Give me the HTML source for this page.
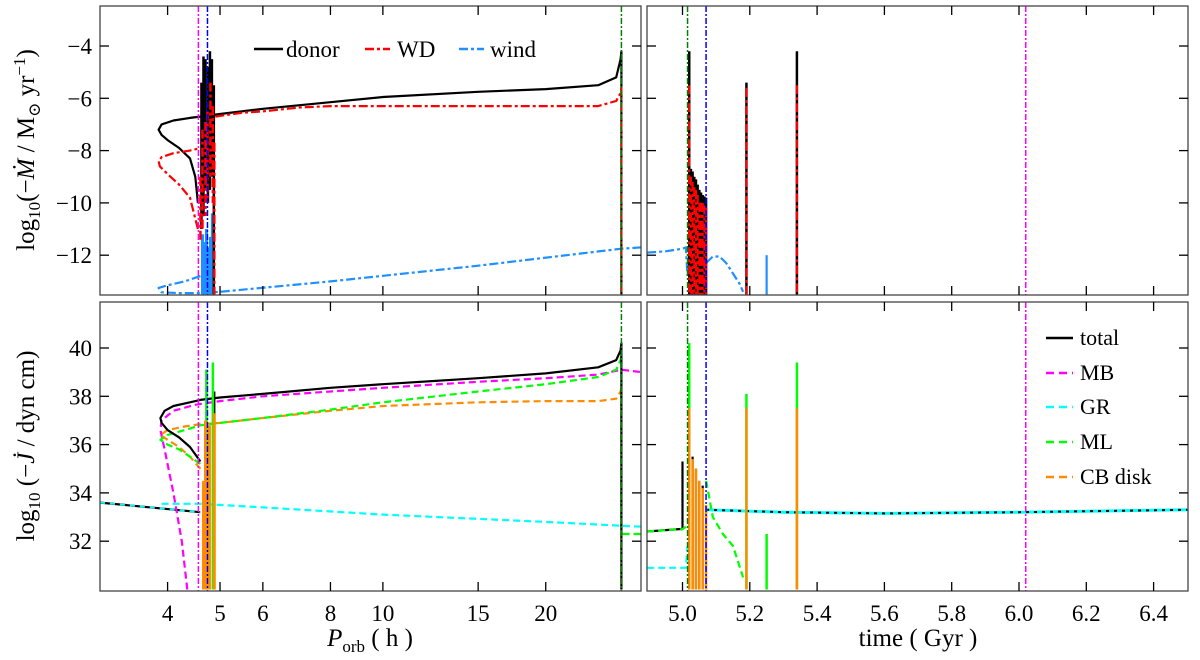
<!DOCTYPE html>
<html><head><meta charset="utf-8"><style>
html,body{margin:0;padding:0;background:#fff}
svg{display:block;font-family:"Liberation Serif","DejaVu Serif",serif}
</style></head><body>
<svg id="fig" width="1200" height="660" viewBox="0 0 1200 660" xmlns="http://www.w3.org/2000/svg">
<defs>
<clipPath id="cTL"><rect x="100" y="6" width="541" height="289"/></clipPath>
<clipPath id="cTR"><rect x="647" y="6" width="541" height="289"/></clipPath>
<clipPath id="cBL"><rect x="100" y="302" width="541" height="289"/></clipPath>
<clipPath id="cBR"><rect x="647" y="302" width="541" height="289"/></clipPath>
</defs>
<g id="gTL" clip-path="url(#cTL)"></g>
<g id="gTR" clip-path="url(#cTR)"></g>
<g id="gBL" clip-path="url(#cBL)"></g>
<g id="gBR" clip-path="url(#cBR)"></g>
<g id="axes"></g>
<text transform="translate(34,150) rotate(-90)" text-anchor="middle" font-size="25">log<tspan font-size="17" dy="6">10</tspan><tspan dy="-6">(−</tspan><tspan font-style="italic">Ṁ</tspan> / M<tspan font-size="17" dy="6">⊙</tspan><tspan dy="-6"> yr</tspan><tspan font-size="17" dy="-9">−1</tspan><tspan dy="9">)</tspan></text>
<text transform="translate(34,446) rotate(-90)" text-anchor="middle" font-size="25">log<tspan font-size="17" dy="6">10</tspan><tspan dy="-6"> (−</tspan><tspan font-style="italic">J̇</tspan> / dyn cm)</text>
<text x="370" y="646" text-anchor="middle" font-size="25"><tspan font-style="italic">P</tspan><tspan font-size="17" dy="6">orb</tspan><tspan dy="-6"> ( h )</tspan></text>
<text x="918" y="646" text-anchor="middle" font-size="25">time ( Gyr )</text>
<g font-size="23">
<g><line x1="254" y1="49" x2="283" y2="49" stroke="#000" stroke-width="2.5"/><text x="286" y="57">donor</text></g>
<g><line x1="365" y1="49" x2="390" y2="49" stroke="#f00" stroke-width="2.5" stroke-dasharray="9,3,3,3"/><text x="397" y="57">WD</text></g>
<g><line x1="459" y1="49" x2="484" y2="49" stroke="#1e90ff" stroke-width="2.5" stroke-dasharray="9,3,3,3"/><text x="490" y="57">wind</text></g>
</g>
<g font-size="22">
<g><line x1="1046" y1="338" x2="1073" y2="338" stroke="#000" stroke-width="2.5"/><text x="1080" y="345">total</text></g>
<g><line x1="1046" y1="373" x2="1073" y2="373" stroke="#f0f" stroke-width="2.5" stroke-dasharray="8,5"/><text x="1080" y="380">MB</text></g>
<g><line x1="1046" y1="407" x2="1073" y2="407" stroke="#0ff" stroke-width="2.5" stroke-dasharray="8,5"/><text x="1080" y="414">GR</text></g>
<g><line x1="1046" y1="442" x2="1073" y2="442" stroke="#0f0" stroke-width="2.5" stroke-dasharray="8,5"/><text x="1080" y="449">ML</text></g>
<g><line x1="1046" y1="477" x2="1073" y2="477" stroke="#ff8c00" stroke-width="2.5" stroke-dasharray="8,5"/><text x="1080" y="484">CB disk</text></g>
</g>
</svg>
<script>
// ---- data ----
const porbTicks=[4,5,6,8,10,15,20];
const timeTicks=[5.0,5.2,5.4,5.6,5.8,6.0,6.2,6.4];
const mdotTicks=[-4,-6,-8,-10,-12];
const jdotTicks=[32,34,36,38,40];
const vlinesPorb=[4.56,4.74,27.6];
const vlinesTime=[5.015,5.07,6.02];
// top-left
const donorX=[4.55,4.5,4.4,4.2,4.0,3.9,3.85,3.9,4.1,4.4,4.6,5,6,8,10,15,20,25,27,27.5,27.6,27.6];
const donorY=[-10,-9,-8.3,-7.9,-7.6,-7.4,-7.2,-7.0,-6.85,-6.75,-6.7,-6.6,-6.4,-6.15,-5.95,-5.75,-5.65,-5.5,-5.2,-4.5,-4.2,-13.5];
const donorSpX=[4.62,4.66,4.70,4.75,4.79,4.83,4.87];
const donorSpTop=[-5.4,-4.4,-4.5,-4.8,-4.2,-4.5,-5.5];
const donorSpBot=[-11,-10.5,-9.5,-10,-9.5,-9,-13.5];
const wdX=[4.55,4.4,4.2,4.0,3.87,3.85,3.9,4.1,4.4,4.6];
const wdY=[-11,-9.8,-9.3,-8.9,-8.6,-8.4,-8.25,-8.1,-8.0,-7.9];
const wd2X=[4.9,5.5,6,7,8,10,15,20,25,27,27.5,27.6,27.6];
const wd2Y=[-6.7,-6.55,-6.5,-6.35,-6.3,-6.3,-6.3,-6.3,-6.3,-6.1,-5.8,-5.6,-13.5];
const wdSpX=[4.6,4.64,4.7,4.74,4.8,4.85,4.88];
const wdSpTop=[-9,-7.2,-6.9,-6.5,-5.4,-6.3,-7.7];
const wdSpBot=[-11.5,-11,-10.5,-10,-9,-10,-13.5];
const windX=[4.6,4.3,4.0,3.85,3.9,4.2,4.6,5,8,15,27.6,30];
const windY=[-12.8,-13.0,-13.15,-13.25,-13.42,-13.45,-13.45,-13.4,-13.0,-12.4,-11.75,-11.7];
const windSpX=[4.64,4.68,4.72,4.76,4.8,4.84];
const windSpTop=[-11.2,-11.5,-11,-11.7,-11.3,-10.4];
// top-right
const windRX=[4.895,4.95,5.0,5.01,5.015];
const windRY=[-11.9,-11.85,-11.75,-11.7,-12.8];
const windR2X=[5.07,5.09,5.11,5.13,5.15,5.17,5.18];
const windR2Y=[-12.3,-12.05,-12.05,-12.3,-12.7,-13.1,-13.4];
const windRSpX=[5.25,5.34];
const windRSpTop=[-12.0,-10.3];
const donorRSpX=[5.02,5.025,5.03,5.035,5.04,5.045,5.05,5.055,5.06,5.065,5.07,5.19,5.34];
const donorRSpTop=[-4.2,-8.7,-8.8,-9.0,-9.1,-9.3,-9.5,-9.6,-9.7,-9.75,-9.8,-5.4,-4.2];
const wdRSpTop=[-5.5,-9.0,-9.2,-9.4,-9.5,-9.7,-10,-10,-10,-10.1,-10.2,-5.6,-5.5];
// bottom-left
const totalX=[4.6,4.4,4.2,4.0,3.9,3.88,3.95,4.1,4.4,4.6,5,6,8,10,15,20,25,27,27.5,27.6,27.6];
const totalY=[35.3,35.9,36.3,36.6,36.9,37.1,37.4,37.6,37.75,37.85,37.95,38.1,38.35,38.5,38.75,38.95,39.2,39.5,39.9,40.2,30];
const totalLowX=[3,4.6];
const totalLowY=[33.6,33.2];
const mbX=[4.35,4.25,4.1,3.95,3.88,3.9,4.1,4.5,5,6,8,10,15,20,25,27.6,30];
const mbY=[30,32,34,35.8,36.6,37.0,37.4,37.65,37.8,38.0,38.2,38.35,38.6,38.75,38.9,39.1,39.0];
const grX=[3.9,4.6,6,10,20,30];
const grY=[33.55,33.55,33.4,33.1,32.8,32.6];
const mlX=[4.6,4.4,4.2,4.0,3.88,4.0,4.3,4.6,5,6,8,10,15,20,25,27,27.5,27.6,27.6,30];
const mlY=[35.2,35.5,35.8,36.0,36.2,36.4,36.6,36.8,36.9,37.1,37.45,37.75,38.2,38.5,38.8,39.1,39.5,39.9,32.3,32.3];
const cbX=[4.6,4.4,4.2,4.0,3.88,4.0,4.3,4.6,5,6,8,10,15,20,25,27,27.5,27.6,27.6];
const cbY=[35.0,35.5,35.9,36.2,36.4,36.6,36.75,36.85,36.9,37.1,37.4,37.6,37.75,37.8,37.8,37.9,38.2,38.4,30];
const mlSpX=[4.72,4.85];
const mlSpTop=[39.1,39.4];
const cbSpX=[4.66,4.7,4.74,4.78,4.88];
const cbSpTop=[34.5,37,35.5,36.8,37.3];
const totSpX=[4.72,4.88];
const totSpTop=[39.1,38.2];
// bottom-right
const totalRX=[4.895,4.99,5.0,5.0];
const totalRY=[32.4,32.5,32.5,35.3];
const flatRX=[5.07,5.3,5.6,6.0,6.5];
const flatRY=[33.3,33.2,33.15,33.2,33.3];
const grRX=[4.895,5.01,5.015];
const grRY=[30.9,30.9,31.8];
const mlRX=[4.895,5.0,5.01];
const mlRY=[32.4,32.5,32.6];
const mlR2X=[5.07,5.09,5.12,5.15,5.18];
const mlR2Y=[34.5,33.0,32.3,31.8,30.5];
const mlRSpX=[5.02,5.19,5.25,5.34];
const mlRSpTop=[40.2,38.1,32.3,39.4];
const cbRSpX=[5.02,5.03,5.04,5.05,5.06,5.07,5.19,5.34];
const cbRSpTop=[37.5,35.4,35,34.5,34.2,33.5,37.5,37.5];
const totRSpX=[5.03,5.04,5.05,5.06];
const totRSpTop=[35.5,35,34.5,34.3];
const mbRSpX=[5.02];
const mbRSpTop=[38.4];

// ---- scales ----
const xL=h=>100+(Math.log10(h)-Math.log10(3))*541;
const xR=t=>682.5+(t-5)*336.5;
const yT=v=>46+(-4-v)*26.15;
const yB=v=>348+(40-v)*24.15;
const NS='http://www.w3.org/2000/svg';
function mk(tag,parent,attrs){const e=document.createElementNS(NS,tag);for(const k in attrs)e.setAttribute(k,attrs[k]);parent.appendChild(e);return e;}
const DD='9,3,3,3', DA='7,4';
function line(g,xs,ys,fx,fy,color,dash,name,w){
  const pts=xs.map((x,i)=>fx(x).toFixed(1)+','+fy(ys[i]).toFixed(1)).join(' ');
  const e=mk('polyline',g,{points:pts,fill:'none',stroke:color,'stroke-width':w||2.2,'stroke-dasharray':dash||'none','stroke-linejoin':'round'});
  
  
}
function spikes(g,xs,tops,bots,fx,fy,color,dash,name,w){
  xs.forEach((x,i)=>{
    const e=mk('line',g,{x1:fx(x),x2:fx(x),y1:fy(tops[i]),y2:fy(bots[i]),stroke:color,'stroke-width':w||2.2,'stroke-dasharray':dash||'none'});
    
    
  });
}
const gTL=document.getElementById('gTL'),gTR=document.getElementById('gTR'),gBL=document.getElementById('gBL'),gBR=document.getElementById('gBR');
const fill=(a,v)=>a.map(()=>v);

// top-left
line(gTL,windX,windY,xL,yT,'#1e90ff',DD,'wind-line');
spikes(gTL,windSpX,windSpTop,fill(windSpX,-13.5),xL,yT,'#1e90ff','none','wind-spike',3);
line(gTL,donorX,donorY,xL,yT,'#000','none','donor-line');
spikes(gTL,donorSpX,donorSpTop,donorSpBot,xL,yT,'#000','none','donor-spike',2.5);
line(gTL,wdX,wdY,xL,yT,'#f00',DD,'wd-line-low');
line(gTL,wd2X,wd2Y,xL,yT,'#f00',DD,'wd-line');
spikes(gTL,wdSpX,wdSpTop,wdSpBot,xL,yT,'#f00',DD,'wd-spike',2.5);
// top-right
line(gTR,windRX,windRY,xR,yT,'#1e90ff',DD,'wind-line-time');
line(gTR,windR2X,windR2Y,xR,yT,'#1e90ff',DD,'wind-hump-time');
spikes(gTR,windRSpX,windRSpTop,fill(windRSpX,-13.5),xR,yT,'#1e90ff','none','wind-spike-time');
spikes(gTR,donorRSpX,donorRSpTop,fill(donorRSpX,-13.5),xR,yT,'#000','none','donor-spike-time',2.5);
spikes(gTR,donorRSpX,wdRSpTop,fill(donorRSpX,-13.5),xR,yT,'#f00',DD,'wd-spike-time',2.2);
// bottom-left
line(gBL,totalLowX,totalLowY,xL,yB,'#000','none','total-line-low');
line(gBL,totalLowX,totalLowY,xL,yB,'#0ff','5,5','gr-line-low',1.8);
line(gBL,grX,grY,xL,yB,'#0ff',DA,'gr-line');
line(gBL,mbX,mbY,xL,yB,'#f0f',DA,'mb-line');
line(gBL,cbX,cbY,xL,yB,'#ff8c00',DA,'cb-disk-line');
line(gBL,mlX,mlY,xL,yB,'#0f0',DA,'ml-line');
line(gBL,totalX,totalY,xL,yB,'#000','none','total-line');
spikes(gBL,totSpX,totSpTop,fill(totSpX,30),xL,yB,'#000','none','total-spike');
spikes(gBL,mlSpX,mlSpTop,fill(mlSpX,30),xL,yB,'#0f0','none','ml-spike',2.5);
spikes(gBL,cbSpX,cbSpTop,fill(cbSpX,30),xL,yB,'#ff8c00','none','cb-disk-spike',3);
// bottom-right
line(gBR,grRX,grRY,xR,yB,'#0ff',DA,'gr-line-time');
line(gBR,totalRX,totalRY,xR,yB,'#000','none','total-line-time');
line(gBR,mlRX,mlRY,xR,yB,'#0f0',DA,'ml-line-time');
line(gBR,flatRX,flatRY,xR,yB,'#0ff','none','gr-flat-time',3);
line(gBR,flatRX,flatRY,xR,yB,'#000','3,5','total-flat-time',2);
line(gBR,mlR2X,mlR2Y,xR,yB,'#0f0',DA,'ml-decay-time');
spikes(gBR,mbRSpX,mbRSpTop,fill(mbRSpX,30),xR,yB,'#f0f','none','mb-spike-time');
spikes(gBR,mlRSpX,mlRSpTop,fill(mlRSpX,30),xR,yB,'#0f0','none','ml-spike-time',2.5);
spikes(gBR,totRSpX,totRSpTop,fill(totRSpX,30),xR,yB,'#000','none','total-spike-time');
spikes(gBR,cbRSpX,cbRSpTop,fill(cbRSpX,30),xR,yB,'#ff8c00','none','cb-disk-spike-time',2.5);

// vertical reference lines
const vcols=['#f0f','#00f','#008000'];
[[gTL,6,295],[gBL,302,591]].forEach(([g,a,b])=>vlinesPorb.forEach((v,i)=>{
  const e=mk('line',g,{x1:xL(v),x2:xL(v),y1:a,y2:b,stroke:vcols[i],'stroke-width':1.5,'stroke-dasharray':'6,2,2,2'});
  
  
}));
const vcolsR=['#008000','#00f','#f0f'];
[[gTR,6,295],[gBR,302,591]].forEach(([g,a,b])=>vlinesTime.forEach((v,i)=>{
  const e=mk('line',g,{x1:xR(v),x2:xR(v),y1:a,y2:b,stroke:vcolsR[i],'stroke-width':1.5,'stroke-dasharray':'6,2,2,2'});
  
  
}));

// axes frames & ticks
const ax=document.getElementById('axes');
const panels=[[100,6,'porb','mdot'],[647,6,'time','mdot'],[100,302,'porb','jdot'],[647,302,'time','jdot']];
panels.forEach(([x0,y0,xt,yt])=>{
  const r=mk('rect',ax,{x:x0,y:y0,width:541,height:289,fill:'none',stroke:'#444','stroke-width':1.3});
  
  
  const xs=xt==='porb'?porbTicks:timeTicks, fx=xt==='porb'?xL:xR;
  xs.forEach(v=>{const p=fx(v);
    mk('line',ax,{x1:p,x2:p,y1:y0,y2:y0+9,stroke:'#000','stroke-width':1.3});
    mk('line',ax,{x1:p,x2:p,y1:y0+289,y2:y0+280,stroke:'#000','stroke-width':1.3});
    if(y0>100){const t=mk('text',ax,{x:p,y:621,'text-anchor':'middle','font-size':23});t.textContent=xt==='porb'?String(v):v.toFixed(1);
      
      }
  });
  const ys=yt==='mdot'?mdotTicks:jdotTicks, fy=yt==='mdot'?yT:yB;
  ys.forEach(v=>{const p=fy(v);
    mk('line',ax,{x1:x0,x2:x0+9,y1:p,y2:p,stroke:'#000','stroke-width':1.3});
    mk('line',ax,{x1:x0+541,x2:x0+532,y1:p,y2:p,stroke:'#000','stroke-width':1.3});
    if(x0<200){const t=mk('text',ax,{x:92,y:p+8,'text-anchor':'end','font-size':23});t.textContent=String(v).replace('-','−');
      
      }
  });
});
</script>
</body></html>
